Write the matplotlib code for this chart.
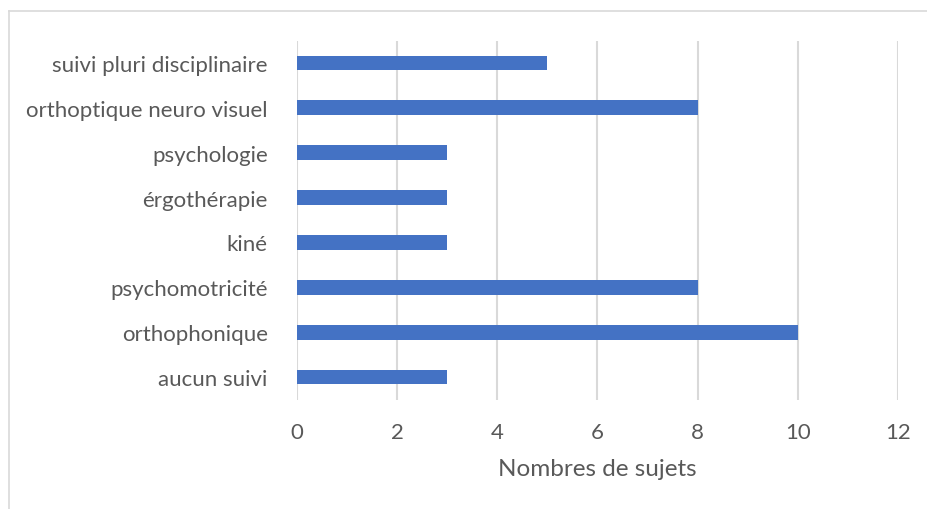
import matplotlib
matplotlib.use("Agg")
import matplotlib.pyplot as plt
from matplotlib.lines import Line2D

# categories listed bottom to top, as on the chart
categories = ["aucun suivi", "orthophonique", "psychomotricité", "kiné",
              "érgothérapie", "psychologie", "orthoptique neuro visuel",
              "suivi pluri disciplinaire"]
counts = [3, 10, 8, 3, 3, 3, 8, 5]
x_ticks = [0, 2, 4, 6, 8, 10, 12]

bar_color = "#4472c4"
text_color = "#595959"
grid_color = "#d9d9d9"

plt.rcParams["font.family"] = ["Lato", "DejaVu Sans"]

fig = plt.figure(figsize=(9.27, 5.1), dpi=100)
ax = fig.add_axes([0.3204, 0.2147, 0.6483, 0.7039])

ax.barh(range(len(categories)), counts, height=0.33, color=bar_color, zorder=3)

ax.set_xlim(0, 12)
ax.set_ylim(-0.5, len(categories) - 0.5)
ax.set_xticks(x_ticks)
ax.set_yticks(range(len(categories)))
ax.set_yticklabels(categories)
ax.grid(axis="x", color=grid_color, linewidth=1.5, zorder=0)
ax.set_axisbelow(True)
for s in ax.spines.values():
    s.set_visible(False)
ax.tick_params(axis="both", length=0, labelsize=16, colors=text_color)
ax.tick_params(axis="y", pad=21)
ax.tick_params(axis="x", pad=16)
ax.set_xlabel("Nombres de sujets", fontsize=17.5, color=text_color, labelpad=12)

# outer chart border, partly cropped in the original
fig.add_artist(Line2D([0.0097, 0.0097], [0.976, 0.0], color=grid_color, linewidth=1.2,
                      transform=fig.transFigure))
fig.add_artist(Line2D([0.0097, 1.0], [0.976, 0.976], color=grid_color, linewidth=1.2,
                      transform=fig.transFigure))

fig.savefig("out.png", dpi=100)
